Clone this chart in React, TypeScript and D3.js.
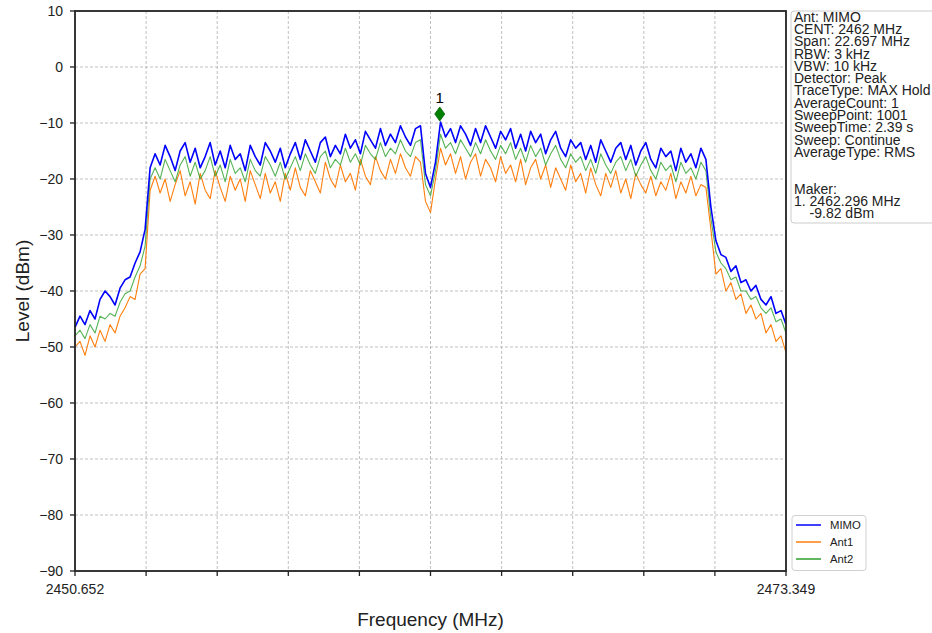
import React from "react";
import * as d3 from "d3";

const F_START = 2450.652;
const F_STOP = 2473.349;
const Y_TICKS = [10, 0, -10, -20, -30, -40, -50, -60, -70, -80, -90];
const X_TICK_COUNT = 10;
const X_TICK_LABELS = ["2450.652", "2473.349"];

const mimo = [
  -46.5, -44.5, -46, -43.5, -45, -41.5, -40, -41, -42.5, -39.5, -38, -37.5, -35, -33, -29,
  -18,
  -15.5, -17.5, -14, -16, -18.5, -15, -13.5, -17, -14.5, -18, -16, -13.5, -17.5, -15, -18, -14, -16.5, -15.5, -18.5, -14, -16, -17.5, -13.5, -15, -17, -14.5, -18, -15.5,
  -13.5, -16.5, -13, -15, -17, -13.5, -12.5, -16, -14, -15.5, -12, -14.5, -13, -15.5, -11.5, -13, -14.5, -11, -14, -12, -13.5, -10.5, -12.5, -14, -11, -10.5,
  -19, -21.5, -17,
  -9.82, -12.5, -11, -13.5, -10.5, -12, -14, -11, -13.5, -10.5, -12.5, -14.5, -11.5, -13, -11, -14.5, -12, -15, -11.5, -13.5, -12, -15.5, -13, -11.5, -14.5, -16, -13, -14.5, -13.5, -16.5, -14, -17, -13, -15, -17, -14.5, -13.5, -16.5, -14, -17.5, -15, -13.5, -16.5, -18, -14.5, -16, -15, -18.5, -14.5, -17, -15.5, -18, -14.5, -16.5,
  -25,
  -31, -33.5, -34, -36.5, -35.5, -38.5, -38, -40, -39, -41.5, -42.5, -41, -44, -43.5, -46,
];

const ant1 = [
  -50, -49, -51.5, -48, -50, -47, -49, -46, -47.5, -44.5, -43, -41, -41.5, -37, -36,
  -22,
  -19.5, -22.5, -20, -24, -21, -18.5, -23, -20.5, -24.5, -19, -22, -23.5, -18.5, -21.5, -24, -19.5, -22, -20, -24, -18.5, -21, -23.5, -19, -22.5, -20.5, -24, -19, -22,
  -18, -21.5, -23, -18.5, -20.5, -22.5, -17, -20, -21.5, -17.5, -20.5, -19, -22, -16.5, -19.5, -21, -16, -18.5, -20, -16.5, -19, -15.5, -18, -19.5, -16, -17,
  -24, -26, -20,
  -14.5, -17.5, -15.5, -19, -16, -20, -17, -15.5, -19.5, -16.5, -18, -20.5, -16, -19, -17.5, -20.5, -16.5, -21, -18, -16.5, -20, -17.5, -21.5, -18, -20, -22, -17.5, -20.5, -19, -22.5, -18, -21, -23, -19, -21.5, -18.5, -22.5, -20, -23.5, -19, -21, -22.5, -19.5, -23, -20.5, -22, -19, -23.5, -20.5, -22.5, -19.5, -23, -21, -21.5,
  -29,
  -37, -36, -40, -38.5, -41.5, -40.5, -44, -42.5, -45, -44, -47.5, -46, -49, -48, -51,
];

const ant2 = [
  -48, -47, -48.5, -46, -47.5, -44.5, -45, -44, -44.5, -42, -40.5, -40, -37.5, -35.5, -32,
  -20,
  -18, -20, -16.5, -18.5, -20.5, -17.5, -16, -19.5, -17, -20, -18.5, -16, -19.5, -17.5, -20.5, -16.5, -19, -18, -20.5, -16.5, -18.5, -19.5, -16, -17.5, -19.5, -17, -20, -18,
  -16, -18.5, -15.5, -17.5, -19, -16, -15, -18, -16.5, -17.5, -14.5, -17, -15.5, -17.5, -14, -15.5, -16.5, -13.5, -16, -14.5, -15.5, -13, -15, -16, -13.5, -13,
  -21, -23, -18.5,
  -12, -14.5, -13.5, -15.5, -13, -14.5, -16, -13.5, -15.5, -13, -15, -16.5, -14, -15.5, -13.5, -16.5, -14.5, -17, -14, -16, -14.5, -17.5, -15.5, -14, -16.5, -18, -15.5, -17, -16, -18.5, -16.5, -19, -15.5, -17.5, -19, -17, -16, -18.5, -16.5, -19.5, -17.5, -16, -18.5, -20, -17, -18.5, -17.5, -20.5, -17, -19, -18, -20, -17, -18.5,
  -27,
  -33, -35, -36, -38, -37.5, -40, -40, -41.5, -41, -43, -44, -43, -45.5, -45, -47.5,
];

const SERIES_NAMES = ["MIMO", "Ant1", "Ant2"];
const SERIES_COLORS = ["#0000ff", "#ff7f0e", "#2ca02c"];

const MARKER_FREQ = 2462.296;
const MARKER_LEVEL = -9.82;

const INFO_LINES = [
  "Ant: MIMO",
  "CENT: 2462 MHz",
  "Span: 22.697 MHz",
  "RBW: 3 kHz",
  "VBW: 10 kHz",
  "Detector: Peak",
  "TraceType: MAX Hold",
  "AverageCount: 1",
  "SweepPoint: 1001",
  "SweepTime: 2.39 s",
  "Sweep: Continue",
  "AverageType: RMS",
  "",
  "",
  "Maker:",
  "1. 2462.296 MHz",
  "    -9.82 dBm",
];

const FONT = "'Liberation Sans', Arial, sans-serif";

export default function App() {
  const W = 932, H = 633;
  const left = 75, right = 786, top = 11, bottom = 571;
  const x = d3.scaleLinear().domain([F_START, F_STOP]).range([left, right]);
  const y = d3.scaleLinear().domain([10, -90]).range([top, bottom]);
  const n = mimo.length;
  const idx = d3.scaleLinear().domain([0, n - 1]).range([F_START, F_STOP]);
  const line = d3
    .line<number>()
    .x((_, i) => x(idx(i)))
    .y((v) => y(v));
  const xTicks = d3.range(X_TICK_COUNT + 1).map((i) => F_START + ((F_STOP - F_START) * i) / X_TICK_COUNT);
  const data = [mimo, ant1, ant2];
  const drawOrder = [1, 2, 0];
  const widths = [1.6, 1.1, 1.1];
  const opac = [1, 1, 0.8];
  const mx = x(MARKER_FREQ);
  const my = y(MARKER_LEVEL) - 8;

  return (
    <svg width={W} height={H} style={{ position: "absolute", left: 0, top: 0, background: "#fff" }} fontFamily={FONT}>
      <rect x={0} y={0} width={W} height={H} fill="#fff" />
      {Y_TICKS.slice(1, -1).map((t) => (
        <line key={"gy" + t} x1={left} x2={right} y1={y(t)} y2={y(t)} stroke="#b0b0b0" strokeWidth={0.8} strokeDasharray="3,2" />
      ))}
      {xTicks.slice(1, -1).map((t, i) => (
        <line key={"gx" + i} x1={x(t)} x2={x(t)} y1={top} y2={bottom} stroke="#b0b0b0" strokeWidth={0.8} strokeDasharray="3,2" />
      ))}
      {drawOrder.map((k) => (
        <path key={SERIES_NAMES[k]} d={line(data[k]) || ""} fill="none" stroke={SERIES_COLORS[k]} strokeWidth={widths[k]} strokeOpacity={opac[k]} strokeLinejoin="round" />
      ))}
      <path d={`M${mx},${my - 7} L${mx + 5},${my} L${mx},${my + 7} L${mx - 5},${my} Z`} fill="#008000" stroke="#006400" strokeWidth={0.8} />
      <text x={mx} y={my - 11} textAnchor="middle" fontSize={15} fill="#000">1</text>
      <rect x={left} y={top} width={right - left} height={bottom - top} fill="none" stroke="#222" strokeWidth={1.8} />
      {Y_TICKS.map((t) => (
        <g key={"yt" + t}>
          <line x1={left - 5} x2={left} y1={y(t)} y2={y(t)} stroke="#222" strokeWidth={1.3} />
          <text x={left - 12} y={y(t)} dy="0.35em" textAnchor="end" fontSize={14} fill="#222">
            {t < 0 ? "\u2212" + Math.abs(t) : String(t)}
          </text>
        </g>
      ))}
      {xTicks.map((t, i) => (
        <line key={"xt" + i} x1={x(t)} x2={x(t)} y1={bottom} y2={bottom + 5} stroke="#222" strokeWidth={1.3} />
      ))}
      <text x={x(F_START)} y={589} dy="0.35em" textAnchor="middle" fontSize={14} fill="#222">{X_TICK_LABELS[0]}</text>
      <text x={x(F_STOP)} y={589} dy="0.35em" textAnchor="middle" fontSize={14} fill="#222">{X_TICK_LABELS[1]}</text>
      <text x={(left + right) / 2} y={619} dy="0.35em" textAnchor="middle" fontSize={19} fill="#222">Frequency (MHz)</text>
      <text transform={`translate(22,${(top + bottom) / 2}) rotate(-90)`} dy="0.35em" textAnchor="middle" fontSize={19} fill="#222">Level (dBm)</text>
      <rect x={791} y={11} width={160} height={212} rx={3} fill="#fff" stroke="#cccccc" strokeWidth={1} />
      {INFO_LINES.map((s, i) => (
        <text key={"info" + i} x={794} y={16.7 + i * 12.3} dy="0.35em" fontSize={14} fill="#222" style={{ whiteSpace: "pre" }}>
          {s}
        </text>
      ))}
      <rect x={792} y={515.5} width={74} height={55} rx={3} fill="#fff" stroke="#d0d0d0" strokeWidth={1} />
      {SERIES_NAMES.map((s, i) => (
        <g key={"lg" + s}>
          <line x1={796} x2={821} y1={525 + i * 17} y2={525 + i * 17} stroke={SERIES_COLORS[i]} strokeWidth={1.5} />
          <text x={830} y={525 + i * 17} dy="0.35em" fontSize={11.3} fill="#222">{s}</text>
        </g>
      ))}
    </svg>
  );
}
